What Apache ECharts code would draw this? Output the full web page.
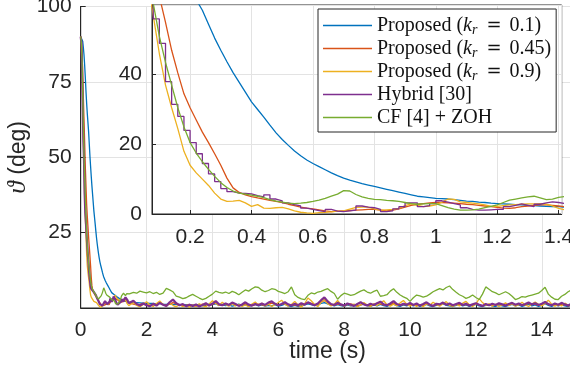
<!DOCTYPE html>
<html><head><meta charset="utf-8">
<script src="https://cdn.jsdelivr.net/npm/echarts@6/dist/echarts.min.js"></script>
<style>html,body{margin:0;padding:0;background:#fff;}#c{width:570px;height:366px;}</style>
</head><body><div id="c"></div>
<script>
// ---- data ----
const seriesNames = ['Proposed (k_r = 0.1)', 'Proposed (k_r = 0.45)', 'Proposed (k_r = 0.9)', 'Hybrid [30]', 'CF [4] + ZOH'];
const seriesColors = ['#0072BD', '#D95319', '#EDB120', '#7E2F8E', '#77AC30'];

// fine sampling: t = 0 .. 1.48 s, step 0.02 s
const tFine = Array.from({length: 75}, (_, i) => +(i * 0.02).toFixed(2));
// coarse sampling: t = 1.5 .. 15.0 s, step 0.1 s
const tTail = Array.from({length: 136}, (_, i) => +(1.5 + i * 0.1).toFixed(1));

const blueFine = [90, 90, 89.5, 88.5, 86.5, 84, 80.5, 76.5, 72, 68,
  64.5, 61.5, 58.5, 54.5, 50.5, 47, 43.7, 40.6, 37.8, 35,
  32.2, 30, 27.8, 25.5, 23.3, 21.4, 19.7, 18.1, 16.7, 15.5,
  14.5, 13.6, 12.7, 11.8, 11.0, 10.3, 9.7, 9.2, 8.7, 8.3,
  7.9, 7.5, 7.1, 6.7, 6.3, 5.9, 5.5, 5.1, 4.9, 4.7,
  4.5, 4.4, 4.3, 4.1, 3.9, 3.7, 3.6, 3.4, 3.3, 3.1,
  3.0, 2.9, 2.8, 2.7, 2.6, 2.5, 2.4, 2.3, 2.2, 2.1,
  2.1, 2.0, 2.0, 1.9, 1.9];
const redFine = [90, 89, 85, 78, 70, 62.5, 55, 47, 40.5, 34.5,
  30.5, 27, 23.5, 20.5, 17.3, 14, 10.3, 7.5, 6.2, 5.5,
  5.0, 4.6, 4.3, 3.9, 3.6, 3.3, 2.8, 2.4, 2.0, 1.7,
  1.5, 1.2, 0.9, 0.7, 0.8, 0.9, 1.0, 1.1, 1.2, 1.3,
  1.3, 1.1, 0.9, 1.1, 1.5, 2.0, 2.5, 2.8, 3.0, 3.2,
  3.3, 3.3, 3.2, 3.1, 3.0, 2.8, 2.7, 2.5, 2.3, 2.1,
  1.9, 1.7, 1.6, 1.8, 2.1, 2.3, 2.5, 2.6, 2.6, 2.5,
  2.3, 2.1, 1.9, 1.8, 1.7];
const yellowFine = [90, 87, 79, 68, 57, 46, 37, 30.5, 24.5, 18,
  14, 11.8, 10.0, 8.2, 6.0, 4.3, 3.6, 3.7, 3.9, 3.2,
  2.2, 2.7, 1.7, 1.6, 1.8, 1.9, 1.5, 0.9, 0.5, 0.3,
  0.2, 0.4, 0.5, 0.6, 0.8, 0.9, 1.4, 1.9, 2.0, 2.0,
  1.5, 1.1, 1.2, 1.3, 1.6, 2.4, 2.9, 2.5, 2.1, 2.3,
  2.6, 3.4, 4.3, 4.2, 3.5, 3.3, 3.1, 2.9, 2.6, 2.2,
  2.2, 2.4, 2.6, 2.7, 2.8, 2.9, 2.9, 3.0, 2.8, 2.3,
  1.6, 1.2, 1.0, 0.8, 0.7];
const purpleFine = [90, 88, 80, 68, 56, 49, 38, 31.5, 28, 24,
  20.5, 17.3, 14.5, 11.5, 9.3, 7.3, 6.4, 6.0, 5.9, 5.8,
  5.3, 4.9, 5.5, 4.3, 3.8, 3.2, 2.7, 2.3, 1.7, 1.3,
  1.0, 0.7, 1.3, 0.8, 0.7, 0.9, 1.1, 2.3, 2.0, 1.8,
  1.3, 0.7, 0.9, 1.5, 2.1, 3.2, 3.2, 2.1, 2.4, 3.0,
  3.8, 3.4, 3.0, 2.6, 1.8, 1.3, 1.1, 1.1, 1.2, 1.3,
  1.3, 2.1, 2.5, 2.9, 2.5, 2.1, 2.8, 3.2, 3.5, 3.3,
  3.0, 2.6, 2.0, 1.6, 1.4];
const greenFine = [90, 88, 82, 72, 60.5, 51, 43.5, 37, 30.5, 25,
  20.5, 17.5, 15, 12.8, 10.8, 9.0, 7.6, 6.6, 6.0, 5.7,
  5.4, 5.1, 4.7, 4.1, 3.7, 3.4, 3.1, 3.0, 3.1, 3.3,
  3.6, 4.0, 4.5, 5.1, 5.7, 6.7, 6.6, 5.6, 4.9, 4.5,
  4.2, 4.1, 3.9, 3.8, 3.6, 3.3, 3.0, 2.8, 2.9, 3.0,
  3.0, 2.4, 1.8, 1.4, 1.1, 1.1, 1.2, 1.4, 1.8, 2.2,
  2.6, 3.3, 4.0, 4.3, 4.6, 4.9, 5.1, 4.6, 4.1, 4.3,
  4.8, 5.0, 4.8, 4.6, 4.7];

const blueTail = [1.9, 1.8, 1.8, 1.7, 1.6, 1.6, 1.5, 1.5, 1.4, 1.5,
  1.3, 1.2, 1.4, 1.2, 1.1, 1.2, 0.9, 1.1, 0.8, 1.0,
  0.9, 1.2, 0.8, 0.9, 1.3, 1.1, 1.4, 0.9, 1.2, 0.8,
  1.0, 0.6, 0.9, 1.3, 0.8, 1.1, 0.6, 0.9, 1.2, 0.7,
  1.0, 0.6, 0.9, 0.7, 1.1, 0.6, 0.9, 1.3, 0.7, 0.5,
  0.9, 0.5, 0.7, 1.0, 1.4, 1.1, 0.8, 1.0, 1.5, 1.8,
  1.4, 1.0, 0.7, 1.1, 0.8, 0.5, 1.0, 0.7, 0.9, 0.5,
  1.0, 1.3, 0.8, 0.5, 1.0, 0.7, 1.2, 0.8, 0.5, 1.0,
  1.3, 0.8, 0.5, 1.0, 0.7, 1.2, 0.7, 1.0, 0.5, 0.9,
  1.2, 0.7, 0.5, 0.9, 1.0, 1.4, 0.9, 0.7, 0.5, 0.9,
  1.2, 0.7, 1.0, 0.5, 0.9, 1.2, 0.7, 0.5, 0.9, 1.0,
  0.7, 0.5, 1.0, 0.7, 0.5, 0.9, 1.2, 0.7, 1.0, 0.5,
  0.9, 1.2, 0.7, 1.0, 0.5, 0.9, 1.4, 0.9, 0.5, 1.0,
  0.7, 1.0, 0.7, 0.5, 0.9, 0.7];
const redTail = [1.6, 1.3, 1.0, 1.2, 1.5, 1.1, 0.8, 1.0, 1.3, 1.6,
  1.2, 0.9, 1.3, 1.8, 1.4, 1.0, 0.7, 0.9, 1.2, 0.8,
  0.6, 0.9, 1.3, 1.0, 0.8, 1.2, 1.7, 1.3, 1.0, 1.4,
  1.1, 1.5, 1.2, 0.9, 1.1, 1.4, 1.0, 0.8, 1.1, 1.3,
  1.0, 0.8, 1.2, 1.6, 1.3, 1.0, 1.2, 1.5, 1.1, 0.8,
  1.0, 0.7, 1.1, 1.4, 1.8, 1.5, 1.1, 1.3, 2.0, 2.4,
  1.8, 1.2, 0.9, 1.3, 1.0, 0.8, 1.1, 1.4, 1.0, 0.7,
  1.0, 1.3, 1.1, 0.8, 1.2, 1.5, 1.3, 1.0, 0.8, 1.1,
  1.6, 1.2, 0.9, 1.2, 1.0, 1.3, 1.0, 0.8, 1.1, 0.9,
  1.3, 1.0, 0.7, 1.0, 1.2, 1.5, 1.2, 1.0, 0.8, 1.1,
  1.3, 1.0, 1.2, 0.8, 1.0, 1.3, 1.0, 0.7, 1.0, 1.2,
  0.9, 1.1, 1.4, 1.0, 0.8, 1.1, 1.4, 1.0, 1.2, 0.9,
  1.1, 1.5, 1.1, 1.3, 0.9, 1.2, 1.6, 1.2, 0.9, 1.1,
  0.8, 1.2, 1.0, 0.7, 1.1, 0.9];
const yellowTail = [0.6, 1.8, 0.9, 0.4, 1.2, 2.1, 1.0, 0.5, 1.5, 2.3,
  1.2, 0.6, 1.6, 0.9, 0.4, 1.1, 0.5, 0.9, 0.3, 1.0,
  0.6, 1.4, 0.8, 0.4, 1.3, 2.4, 1.5, 0.8, 1.9, 1.1,
  0.6, 1.4, 0.7, 1.2, 0.5, 1.0, 0.4, 1.3, 2.0, 0.9,
  1.6, 0.7, 1.3, 0.5, 1.1, 1.8, 2.6, 1.3, 0.6, 1.2,
  2.2, 1.0, 0.3, 1.4, 3.3, 2.4, 1.2, 0.5, 1.9, 2.9,
  1.4, 0.7, 1.3, 2.5, 1.2, 0.6, 1.5, 0.8, 1.3, 0.4,
  1.0, 1.8, 0.9, 0.5, 1.4, 0.8, 1.6, 2.4, 1.1, 0.6,
  1.3, 0.7, 1.7, 2.5, 1.3, 0.6, 1.2, 0.5, 1.1, 0.4,
  1.5, 0.9, 1.9, 1.2, 0.6, 1.4, 2.1, 0.9, 0.5, 1.2,
  0.7, 1.6, 2.2, 1.1, 0.5, 1.3, 3.1, 1.8, 0.9, 1.4,
  0.6, 1.2, 0.5, 1.0, 1.7, 0.8, 1.4, 0.6, 1.1, 1.9,
  1.0, 0.5, 1.3, 2.0, 1.2, 0.7, 1.5, 2.6, 1.3, 0.6,
  1.2, 0.7, 1.6, 1.0, 0.5, 1.2];
const purpleTail = [1.2, 2.4, 1.3, 0.8, 1.5, 0.9, 0.6, 1.4, 0.8, 1.7,
  1.1, 0.7, 1.9, 2.8, 1.6, 0.9, 1.3, 0.6, 1.1, 0.7,
  1.2, 0.5, 1.0, 1.6, 0.8, 1.4, 2.3, 1.2, 0.9, 1.5,
  1.0, 1.8, 1.3, 0.7, 1.2, 1.9, 1.1, 0.8, 1.3, 0.9,
  1.5, 1.0, 1.8, 2.2, 1.4, 0.9, 1.3, 1.9, 1.2, 0.8,
  1.4, 0.9, 1.6, 1.1, 1.9, 1.3, 0.9, 1.5, 2.6, 3.5,
  2.2, 1.3, 1.0, 1.7, 1.2, 0.8, 1.5, 1.1, 0.7, 1.3,
  1.9, 1.2, 0.8, 1.4, 1.0, 1.6, 2.1, 1.2, 0.9, 1.5,
  2.3, 1.3, 0.9, 1.4, 1.1, 1.7, 1.0, 1.5, 0.8, 1.3,
  1.9, 1.1, 0.7, 1.4, 1.2, 1.8, 1.1, 1.5, 0.9, 1.3,
  1.7, 1.0, 1.4, 0.8, 1.2, 1.6, 1.1, 0.7, 1.3, 0.9,
  1.4, 1.0, 1.6, 1.2, 0.8, 1.3, 1.7, 1.1, 1.5, 0.9,
  1.3, 1.8, 1.2, 1.6, 1.0, 1.4, 2.0, 1.3, 0.9, 1.5,
  1.1, 1.7, 1.2, 0.8, 1.4, 1.1];
const greenTail = [4.6, 5.2, 4.9, 5.6, 5.3, 5.0, 5.4, 4.8, 5.2, 4.5,
  4.9, 6.5, 6.0, 5.4, 3.9, 3.6, 3.1, 3.4, 4.0, 4.5,
  3.9, 3.3, 2.8, 3.2, 3.9, 4.6, 5.6, 5.2, 4.9, 5.3,
  4.8, 5.5, 5.1, 4.4, 5.2, 6.0, 5.6, 6.4, 7.0, 6.8,
  5.9, 5.4, 5.8, 6.4, 6.2, 5.5, 5.2, 4.8, 5.4, 7.0,
  4.4, 3.5, 3.0, 2.8, 4.2, 5.0, 4.7, 5.3, 5.5, 6.0,
  6.4, 5.5, 4.8, 2.9, 4.1, 4.9, 4.6, 4.2, 4.4, 5.0,
  5.6, 6.0, 5.3, 4.9, 5.5, 5.9, 3.9, 4.1, 4.4, 5.6,
  6.4, 5.2, 4.3, 3.7, 3.2, 2.2, 3.4, 4.3, 4.0, 3.6,
  3.9, 4.6, 5.4, 5.9, 6.4, 6.0, 6.8, 7.3, 6.1, 5.2,
  4.4, 3.9, 3.2, 3.6, 4.3, 3.5, 2.8, 4.6, 7.0, 6.2,
  5.4, 5.0, 4.4, 4.9, 5.4, 4.8, 3.9, 2.8, 3.2, 3.8,
  3.6, 4.0, 4.3, 4.6, 4.9, 5.8, 6.9, 4.6, 3.6, 2.9,
  2.8, 3.9, 4.5, 5.4, 6.0, 5.6];

const fineValues = [blueFine, redFine, yellowFine, purpleFine, greenFine];
const tailValues = [blueTail, redTail, yellowTail, purpleTail, greenTail];

const mainXTicks = {min: 0, max: 15, interval: 2};
const mainYTicks = {min: 0, max: 100, interval: 25};
const insetXRange = {min: 0.076, max: 1.41};
const insetYTicks = {min: 0, max: 60, interval: 20};

// ---- chart ----
const SANS = '"Liberation Sans", Arial, Helvetica, sans-serif';
const SERIF = '"Liberation Serif", "Times New Roman", serif';
const AX = '#262626';
const GRIDC = '#e3e3e3';

const pairs = (t, v) => t.map((x, i) => [x, v[i]]);

const series = [];
seriesNames.forEach((name, k) => {
  series.push({
    name, type: 'line', xAxisIndex: 0, yAxisIndex: 0,
    data: pairs(tFine.concat(tTail), fineValues[k].concat(tailValues[k])),
    symbol: 'none', showSymbol: false, clip: true, animation: false,
    lineStyle: {color: seriesColors[k], width: k === 3 ? 2.2 : 1.3},
    itemStyle: {color: seriesColors[k]}, z: 2 + k
  });
});
seriesNames.forEach((name, k) => {
  series.push({
    name, type: 'line', xAxisIndex: 1, yAxisIndex: 1, zlevel: 1,
    data: pairs(tFine, fineValues[k]),
    step: k === 3 ? 'end' : false,
    symbol: 'none', showSymbol: false, clip: true, animation: false,
    lineStyle: {color: seriesColors[k], width: 1.3},
    itemStyle: {color: seriesColors[k]}, z: 2 + k
  });
});

const labelStyle = {color: AX, fontSize: 21, fontFamily: SANS};

const option = {
  animation: false,
  backgroundColor: '#fff',
  grid: [
    {left: 80.7, top: 6.5, width: 494, height: 301.5, show: true, borderColor: AX, borderWidth: 1,
     backgroundColor: 'transparent', containLabel: false, outerBoundsMode: 'none'},
    {left: 152, top: 5, width: 409.7, height: 209, show: true, borderColor: AX, borderWidth: 1,
     backgroundColor: '#fff', containLabel: false, outerBoundsMode: 'none', zlevel: 1, z: 0}
  ],
  xAxis: [
    {type: 'value', gridIndex: 0, min: mainXTicks.min, max: mainXTicks.max, interval: mainXTicks.interval,
     axisLine: {show: true, lineStyle: {color: AX, width: 1}},
     axisTick: {show: true, inside: true, length: 5, lineStyle: {color: AX}},
     axisLabel: Object.assign({margin: 12, showMaxLabel: false}, labelStyle),
     splitLine: {show: true, lineStyle: {color: GRIDC, width: 1}},
     name: 'time (s)', nameLocation: 'middle', nameGap: 32, nameMoveOverlap: false,
     nameTextStyle: {color: AX, fontSize: 23, fontFamily: SANS}},
    {type: 'value', gridIndex: 1, zlevel: 1, min: insetXRange.min, max: insetXRange.max, splitNumber: 7,
     axisLine: {show: true, lineStyle: {color: AX, width: 1}},
     axisTick: {show: true, inside: true, length: 4, lineStyle: {color: AX}},
     axisLabel: Object.assign({margin: 13, showMinLabel: false, showMaxLabel: false}, labelStyle),
     splitLine: {show: true, lineStyle: {color: GRIDC, width: 1}}}
  ],
  yAxis: [
    {type: 'value', gridIndex: 0, min: mainYTicks.min, max: mainYTicks.max, interval: mainYTicks.interval,
     axisLine: {show: true, lineStyle: {color: AX, width: 1}},
     axisTick: {show: true, inside: true, length: 5, lineStyle: {color: AX}},
     axisLabel: Object.assign({margin: 9, showMinLabel: false}, labelStyle),
     splitLine: {show: true, lineStyle: {color: GRIDC, width: 1}},
     name: '{th|ϑ} (deg)', nameLocation: 'middle', nameGap: 50, nameRotate: 90, nameMoveOverlap: false,
     nameTextStyle: {color: AX, fontSize: 23, fontFamily: SANS,
       rich: {th: {fontFamily: SERIF, fontStyle: 'italic', fontSize: 25, color: AX}}}},
    {type: 'value', gridIndex: 1, zlevel: 1, min: insetYTicks.min, max: insetYTicks.max, interval: insetYTicks.interval,
     axisLine: {show: true, lineStyle: {color: AX, width: 1}},
     axisTick: {show: true, inside: true, length: 4, lineStyle: {color: AX}},
     axisLabel: Object.assign({margin: 10, showMaxLabel: false}, labelStyle),
     splitLine: {show: true, lineStyle: {color: GRIDC, width: 1}}}
  ],
  legend: {
    zlevel: 2, z: 10, orient: 'vertical', left: 318, top: 9,
    data: seriesNames, selectedMode: false,
    icon: 'rect', itemWidth: 49, itemHeight: 1.5, itemGap: 0,
    padding: [5, 5, 3, 5],
    backgroundColor: '#fff', borderColor: AX, borderWidth: 1, borderRadius: 0,
    formatter: n => n.replace('k_r = ', '{k|k}{r|r}{eq|=}'),
    textStyle: {color: '#111', fontFamily: SERIF, fontSize: 20, lineHeight: 23,
      rich: {
        k: {fontFamily: SERIF, fontStyle: 'italic', fontSize: 20, lineHeight: 23, color: '#111'},
        r: {fontFamily: SERIF, fontStyle: 'italic', fontSize: 14, lineHeight: 14, verticalAlign: 'bottom', color: '#111'},
        eq: {fontFamily: '"DejaVu Sans", sans-serif', fontSize: 18, lineHeight: 23, padding: [0, 8, 0, 9], color: '#111'}
      }}
  },
  series
};

const chart = echarts.init(document.getElementById('c'), null, {renderer: 'canvas'});
chart.setOption(option);
</script></body></html>
